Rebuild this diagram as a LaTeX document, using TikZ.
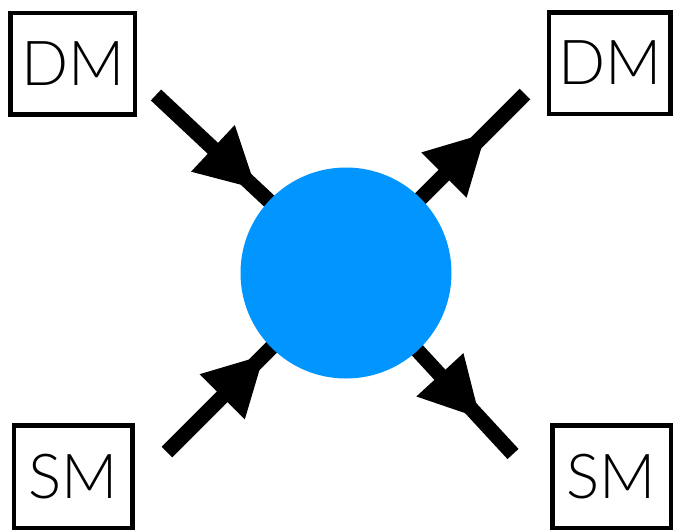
\documentclass[tikz,border=0pt]{standalone}
\usepackage{fontspec}
\setmainfont{Lato}[UprightFont=* Light]
\usetikzlibrary{arrows.meta,decorations.markings}
\definecolor{blob}{RGB}{0,149,255}
\pgfdeclarelayer{background}
\pgfsetlayers{background,main}
\tikzset{
  particle/.style={draw=black, line width=4.5pt, inner sep=0pt,
    font=\fontsize{62}{70}\selectfont},
  vertex/.style={circle, fill=blob, minimum size=211pt, inner sep=0pt},
  leg/.style={draw=black, line width=15pt},
  headat/.style={postaction={decorate}, decoration={markings,
    mark=at position #1 with {\arrow{Triangle[length=59pt,width=64pt,line width=0pt]}}}},
}
\begin{document}
\begin{tikzpicture}[x=1pt,y=-1pt]
\useasboundingbox (0,0) rectangle (673,531);

% interaction vertex
\node[vertex] (ball) at (346,273) {};

% external particles
\node[particle, minimum width=124.5pt, minimum height=101.5pt] (dmin)  at (72.8,63.7)  {DM};
\node[particle, minimum width=121.8pt, minimum height=101.5pt] (dmout) at (609.8,63)   {DM};
\node[particle, minimum width=118.8pt, minimum height=102.5pt] (smin)  at (73.3,476.5) {SM};
\node[particle, minimum width=118.5pt, minimum height=102.5pt] (smout) at (611.5,476.5) {SM};

% free ends of the legs
\coordinate (legA) at (156,95);
\coordinate (legB) at (525,94);
\coordinate (legC) at (167,452);
\coordinate (legD) at (513,454);

\begin{pgfonlayer}{background}
  \draw[leg, headat=137pt]   (legA) -- (ball.center);
  \draw[leg, headat=137pt]   (legC) -- (ball.center);
  \draw[leg, headat=197.5pt] (ball.center) -- (legB);
  \draw[leg, headat=197.5pt] (ball.center) -- (legD);
\end{pgfonlayer}
\end{tikzpicture}
\end{document}
